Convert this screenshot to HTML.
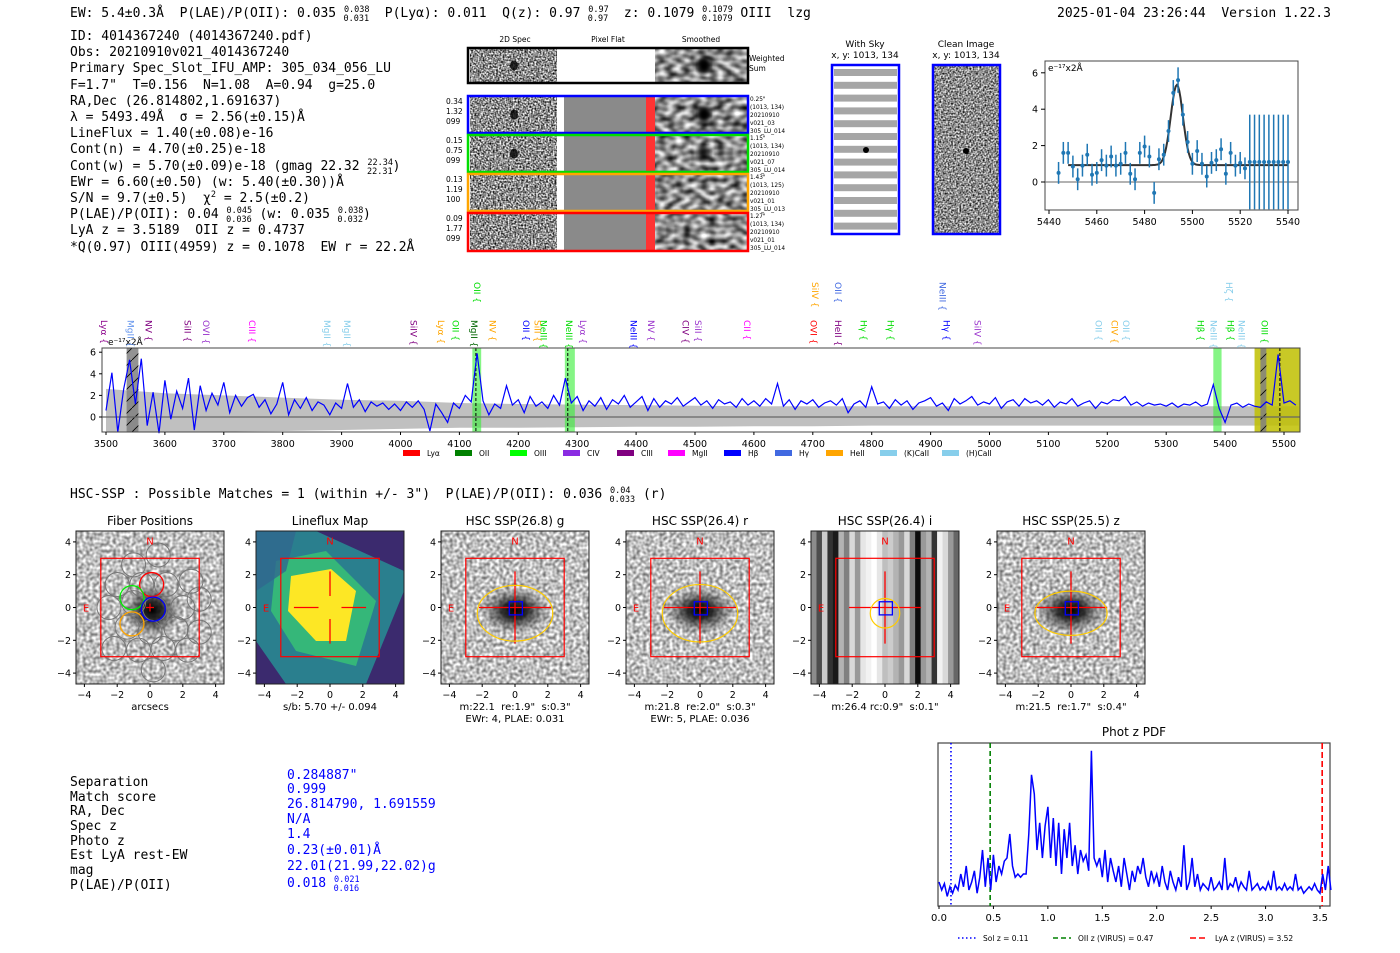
<!DOCTYPE html>
<html><head><meta charset="utf-8">
<style>
html,body{margin:0;padding:0;background:#fff;}
svg{display:block;}
.m{font-family:"DejaVu Sans Mono","Liberation Mono",monospace;font-size:13px;fill:#000;white-space:pre;}
.s{font-family:"DejaVu Sans","Liberation Sans",sans-serif;}
text{white-space:pre;}
</style></head>
<body>
<svg id="root" width="1400" height="953" viewBox="0 0 1400 953" xmlns="http://www.w3.org/2000/svg">
<defs>
<filter id="nSpec" x="0" y="0" width="100%" height="100%" color-interpolation-filters="sRGB">
<feTurbulence type="fractalNoise" baseFrequency="0.6" numOctaves="1" seed="3"/>
<feColorMatrix type="matrix" values="2 0 0 0 -0.45  2 0 0 0 -0.45  2 0 0 0 -0.45  0 0 0 0 1"/>
</filter>
<filter id="nSmooth" x="0" y="0" width="100%" height="100%" color-interpolation-filters="sRGB">
<feTurbulence type="fractalNoise" baseFrequency="0.12 0.18" numOctaves="1" seed="5"/>
<feColorMatrix type="matrix" values="1.6 0 0 0 -0.25  1.6 0 0 0 -0.25  1.6 0 0 0 -0.25  0 0 0 0 1"/>
</filter>
<filter id="nClean" x="0" y="0" width="100%" height="100%" color-interpolation-filters="sRGB">
<feTurbulence type="fractalNoise" baseFrequency="0.6" numOctaves="1" seed="9"/>
<feColorMatrix type="matrix" values="1.8 0 0 0 -0.35  1.8 0 0 0 -0.35  1.8 0 0 0 -0.35  0 0 0 0 1"/>
</filter>
<filter id="nCut" x="0" y="0" width="100%" height="100%" color-interpolation-filters="sRGB">
<feTurbulence type="fractalNoise" baseFrequency="0.3" numOctaves="1" seed="4"/>
<feColorMatrix type="matrix" values="1.1 0 0 0 0.2  1.1 0 0 0 0.2  1.1 0 0 0 0.2  0 0 0 0 1"/>
</filter>
<filter id="blur"><feGaussianBlur stdDeviation="2.5"/></filter>
<radialGradient id="gal"><stop offset="0" stop-color="#000" stop-opacity="1"/><stop offset="0.35" stop-color="#111" stop-opacity="0.85"/><stop offset="1" stop-color="#555" stop-opacity="0"/></radialGradient>
<pattern id="hatch" width="12" height="12" patternUnits="userSpaceOnUse"><path d="M0,12 L12,0" stroke="#000" stroke-width="0.8"/></pattern>
</defs>

<text class="m" x="70" y="17">EW: 5.4±0.3Å  P(LAE)/P(OII): 0.035 <tspan font-size="8.5" dy="-5">0.038</tspan><tspan font-size="8.5" dx="-26" dy="9">0.031</tspan><tspan dy="-4">  P(Lyα): 0.011  Q(z): 0.97 </tspan><tspan font-size="8.5" dy="-5">0.97</tspan><tspan font-size="8.5" dx="-21" dy="9">0.97</tspan><tspan dy="-4">  z: 0.1079 </tspan><tspan font-size="8.5" dy="-5">0.1079</tspan><tspan font-size="8.5" dx="-31" dy="9">0.1079</tspan><tspan dy="-4"> OIII  lzg</tspan></text>
<text class="m" x="1057" y="17">2025-01-04 23:26:44  Version 1.22.3</text>

<g>
<text class="m" x="70" y="40">ID: 4014367240 (4014367240.pdf)</text>
<text class="m" x="70" y="56">Obs: 20210910v021_4014367240</text>
<text class="m" x="70" y="72">Primary Spec_Slot_IFU_AMP: 305_034_056_LU</text>
<text class="m" x="70" y="89">F=1.7"  T=0.156  N=1.08  A=0.94  g=25.0</text>
<text class="m" x="70" y="105">RA,Dec (26.814802,1.691637)</text>
<text class="m" x="70" y="121">λ = 5493.49Å  σ = 2.56(±0.15)Å</text>
<text class="m" x="70" y="137">LineFlux = 1.40(±0.08)e-16</text>
<text class="m" x="70" y="153">Cont(n) = 4.70(±0.25)e-18</text>
<text class="m" x="70" y="170">Cont(w) = 5.70(±0.09)e-18 (gmag 22.32 <tspan font-size="8.5" dy="-5">22.34</tspan><tspan font-size="8.5" dx="-26" dy="9">22.31</tspan><tspan dy="-4">)</tspan></text>
<text class="m" x="70" y="186">EWr = 6.60(±0.50) (w: 5.40(±0.30))Å</text>
<text class="m" x="70" y="202">S/N = 9.7(±0.5)  χ<tspan font-size="8.5" dy="-5">2</tspan><tspan dy="5"> = 2.5(±0.2)</tspan></text>
<text class="m" x="70" y="218">P(LAE)/P(OII): 0.04 <tspan font-size="8.5" dy="-5">0.045</tspan><tspan font-size="8.5" dx="-26" dy="9">0.036</tspan><tspan dy="-4"> (w: 0.035 </tspan><tspan font-size="8.5" dy="-5">0.038</tspan><tspan font-size="8.5" dx="-26" dy="9">0.032</tspan><tspan dy="-4">)</tspan></text>
<text class="m" x="70" y="234">LyA z = 3.5189  OII z = 0.4737</text>
<text class="m" x="70" y="251">*Q(0.97) OIII(4959) z = 0.1078  EW r = 22.2Å</text>
</g>

<g id="twod" class="s">
<text x="515" y="42" font-size="7.5" text-anchor="middle">2D Spec</text>
<text x="608" y="42" font-size="7.5" text-anchor="middle">Pixel Flat</text>
<text x="701" y="42" font-size="7.5" text-anchor="middle">Smoothed</text>
<text x="749" y="61" font-size="7.5">Weighted</text>
<text x="749" y="71" font-size="7.5">Sum</text>
</g>

<g class="s">
<text x="865" y="47" font-size="9" text-anchor="middle">With Sky</text>
<text x="865" y="58" font-size="9" text-anchor="middle">x, y: 1013, 134</text>
</g>
<g class="s">
<text x="966" y="47" font-size="9" text-anchor="middle">Clean Image</text>
<text x="966" y="58" font-size="9" text-anchor="middle">x, y: 1013, 134</text>
</g>

<g id="fitplot"></g>
<g id="spec"></g>

<text class="m" x="70" y="498">HSC-SSP : Possible Matches = 1 (within +/- 3")  P(LAE)/P(OII): 0.036 <tspan font-size="8.5" dy="-5">0.04</tspan><tspan font-size="8.5" dx="-21" dy="9">0.033</tspan><tspan dy="-4"> (r)</tspan></text>

<g id="cutouts"></g>

<g>
<text class="m" x="70" y="786">Separation</text>
<text class="m" x="70" y="801">Match score</text>
<text class="m" x="70" y="815">RA, Dec</text>
<text class="m" x="70" y="830">Spec z</text>
<text class="m" x="70" y="845">Photo z</text>
<text class="m" x="70" y="859">Est LyA rest-EW</text>
<text class="m" x="70" y="874">mag</text>
<text class="m" x="70" y="889">P(LAE)/P(OII)</text>
<text class="m" x="287" y="779" style="fill:#0000ff">0.284887"</text>
<text class="m" x="287" y="793" style="fill:#0000ff">0.999</text>
<text class="m" x="287" y="808" style="fill:#0000ff">26.814790, 1.691559</text>
<text class="m" x="287" y="823" style="fill:#0000ff">N/A</text>
<text class="m" x="287" y="838" style="fill:#0000ff">1.4</text>
<text class="m" x="287" y="854" style="fill:#0000ff">0.23(±0.01)Å</text>
<text class="m" x="287" y="870" style="fill:#0000ff">22.01(21.99,22.02)g</text>
<text class="m" x="287" y="887" style="fill:#0000ff">0.018 <tspan font-size="8.5" dy="-5">0.021</tspan><tspan font-size="8.5" dx="-26" dy="9">0.016</tspan></text>
</g>

<g id="pdf"></g>
</svg>

<script>
// ---------- Data: full spectrum (flux, 1e-17 x 2A, sampled every 10 A from 3500) ----------
const specStart = 3500;
const specStep = 10;
const specFlux = [0.6,4.1,-1.4,2.6,5.3,1.2,5.4,-0.8,2.3,-1.5,
3.4,-0.2,2.4,0.8,3.6,-1.2,2.9,0.6,2.2,1.1,
3.2,0.4,2.0,1.0,1.8,2.1,0.9,1.6,0.3,1.2,
3.2,0.2,1.6,0.8,1.8,0.6,1.4,1.1,0.2,1.3,
0.8,3.1,0.9,1.6,0.5,1.4,1.0,1.3,0.7,1.2,
0.6,1.4,0.9,1.5,0.7,-1.3,1.2,0.4,-0.5,1.3,
0.8,2.0,1.4,5.9,1.5,0.2,1.2,0.8,2.9,1.1,
1.6,0.4,1.9,1.0,1.4,0.8,2.0,1.1,3.6,1.3,
1.9,0.6,1.5,1.0,1.8,0.7,1.6,1.2,2.0,0.9,
1.4,1.9,0.6,1.7,0.9,1.5,1.2,1.8,1.0,1.4,
1.8,1.1,1.5,0.8,1.6,1.2,1.4,0.9,1.7,1.1,
1.5,1.0,1.7,1.2,3.1,1.0,1.6,0.7,1.5,1.2,
1.6,0.9,1.3,1.5,1.1,1.7,0.4,1.2,1.5,0.9,
2.8,1.2,1.4,0.8,1.6,1.1,1.5,0.7,1.3,1.5,
1.8,1.0,1.3,0.6,1.7,1.2,1.5,1.9,1.1,1.4,
1.2,1.8,0.8,1.4,1.6,1.0,1.7,1.3,1.5,1.1,
1.6,0.9,1.4,1.2,1.7,1.0,1.3,1.5,0.8,1.4,
1.2,1.6,1.5,1.9,1.1,1.4,1.0,1.3,1.1,1.2,
1.0,1.3,0.9,1.2,1.1,1.4,1.0,1.2,3.0,0.8,
-0.5,1.1,1.3,0.9,1.2,1.0,0.9,1.4,1.1,5.8,
1.3,1.5,1.1];
const errWave = [3500,3600,3700,3800,3900,4000,4100,4200,4300,4400,4500,4600,4700,4800,4900,5000,5100,5200,5300,5400,5525];
const errUpper = [2.6,2.2,2.0,1.8,1.6,1.5,1.3,1.2,1.15,1.1,1.05,1.0,1.0,1.0,1.0,1.0,1.0,1.0,1.0,1.0,1.0];
const errLower = [-1.4,-1.4,-1.35,-1.3,-1.2,-1.1,-1.0,-1.0,-0.95,-0.9,-0.9,-0.85,-0.85,-0.8,-0.8,-0.8,-0.8,-0.8,-0.8,-0.8,-0.8];
const specXTicks = [3500,3600,3700,3800,3900,4000,4100,4200,4300,4400,4500,4600,4700,4800,4900,5000,5100,5200,5300,5400,5500];
const specYTicks = [0,2,4,6];
const greenBands = [[4122,4137],[4279,4296],[5380,5394]];
const lineLabels = [
["Lyα",3497,0,"#8b008b"],["MgII",3542,0,"#6495ed"],["NV",3572,0,"#800080"],["SiII",3638,0,"#800080"],["OVI",3670,0,"#9932cc"],["CIII",3748,0,"#ff00ff"],
["MgII",3875,0,"#87ceeb"],["MgII",3909,0,"#87ceeb"],["SiIV",4022,0,"#800080"],["Lyα",4069,0,"#ffa500"],["OII",4093,0,"#00dd00"],["MgII",4125,0,"#006400"],
["NV",4156,0,"#ffa500"],["OII",4213,0,"#0000ff"],["SiII",4233,0,"#ffa500"],["NeIII",4243,0,"#00dd00"],["NeIII",4286,0,"#00dd00"],["Lyα",4310,0,"#9932cc"],
["NeIII",4396,0,"#0000ff"],["NV",4425,0,"#9932cc"],["CIV",4484,0,"#800080"],["SiII",4505,0,"#9932cc"],["CII",4588,0,"#ff00ff"],["OVI",4701,0,"#ff0000"],
["HeII",4743,0,"#800080"],["Hγ",4786,0,"#00dd00"],["Hγ",4832,0,"#00dd00"],["Hγ",4927,0,"#0000ff"],["SiIV",4980,0,"#9932cc"],["OII",5185,0,"#87ceeb"],
["CIV",5212,0,"#ffa500"],["OII",5232,0,"#87ceeb"],["Hβ",5358,0,"#00dd00"],["NeIII",5380,0,"#87ceeb"],["Hβ",5409,0,"#00dd00"],["NeIII",5428,0,"#87ceeb"],["OIII",5467,0,"#00dd00"],
["OII",4130,1,"#00dd00"],["SiIV",4704,1,"#ffa500"],["OII",4743,1,"#4169e1"],["NeIII",4920,1,"#4169e1"],["Hζ",5407,1,"#87ceeb"]];
const legendNames = ["Lyα","OII","OIII","CIV","CIII","MgII","Hβ","Hγ","HeII","(K)CaII","(H)CaII"];
const legendColors = ["#ff0000","#008000","#00ff00","#8a2be2","#800080","#ff00ff","#0000ff","#4169e1","#ffa500","#87ceeb","#87ceeb"];

// ---------- Data: line fit ----------
const fitWave = [5444,5446,5448,5450,5452,5454,5456,5458,5460,5462,5464,5466,5468,5470,5472,5474,5476,5478,5480,5482,5484,5486,5488,5490,5492,5494,5496,5498,5500,5502,5504,5506,5508,5510,5512,5514,5516,5518,5520,5522,5524,5526,5528,5530,5532,5534,5536,5538,5540];
const fitFlux = [0.5,1.6,1.6,0.85,0.15,0.9,1.5,0.4,0.5,1.2,0.9,1.4,0.9,1.0,1.6,0.45,0.15,1.6,1.95,1.4,-0.6,1.25,1.5,2.8,4.9,5.6,3.7,2.2,1.0,1.7,1.0,0.3,1.05,1.2,1.8,0.45,1.6,0.9,1.05,0.75,1.1,1.1,1.1,1.1,1.1,1.1,1.1,1.1,1.1];
const fitErr = [0.6,0.6,0.6,0.6,0.6,0.6,0.6,0.6,0.6,0.6,0.6,0.6,0.6,0.6,0.6,0.6,0.6,0.6,0.6,0.6,0.6,0.6,0.6,0.6,0.7,0.7,0.6,0.6,0.6,0.6,0.6,0.6,0.6,0.6,0.6,0.6,0.6,0.6,0.6,0.6,2.6,2.6,2.6,2.6,2.6,2.6,2.6,2.6,2.6];
const fitModel = [5493.49, 2.56, 4.4, 0.93]; // center, sigma, amplitude, continuum
const fitXTicks = [5440,5460,5480,5500,5520,5540];
const fitYTicks = [0,2,4,6];

// ---------- Data: photometric z PDF (step 0.025 from z=0) ----------
const pdfStep = 0.025;
const pdfVals = [0.15,0.1,0.14,0.06,0.12,0.08,0.13,0.1,0.2,0.12,0.25,0.1,0.15,0.22,0.08,0.18,0.35,0.12,0.3,0.1,
0.32,0.15,0.25,0.2,0.28,0.3,0.45,0.25,0.18,0.2,0.18,0.2,0.2,0.45,0.82,0.7,0.35,0.52,0.3,0.5,
0.62,0.3,0.55,0.25,0.52,0.2,0.48,0.3,0.52,0.25,0.38,0.2,0.35,0.28,0.32,0.22,0.97,0.3,0.25,0.3,
0.18,0.35,0.15,0.3,0.22,0.15,0.25,0.12,0.3,0.2,0.1,0.22,0.15,0.25,0.2,0.3,0.18,0.12,0.22,0.15,
0.2,0.12,0.25,0.15,0.1,0.22,0.15,0.1,0.18,0.12,0.38,0.1,0.15,0.3,0.12,0.2,0.1,0.14,0.12,0.1,
0.18,0.1,0.12,0.15,0.1,0.3,0.1,0.14,0.12,0.18,0.1,0.15,0.12,0.1,0.22,0.1,0.12,0.14,0.1,0.12,
0.1,0.15,0.1,0.22,0.1,0.12,0.1,0.14,0.1,0.12,0.1,0.2,0.1,0.12,0.08,0.1,0.12,0.1,0.14,0.1,
0.08,0.2,0.1,0.25,0.1];
const pdfXTicks = [0.0,0.5,1.0,1.5,2.0,2.5,3.0,3.5];
const pdfMarkers = [0.11,0.47,3.52];
const pdfMarkerLabels = ["Sol z = 0.11","OII z (VIRUS) = 0.47","LyA z (VIRUS) = 3.52"];

const NS = "http://www.w3.org/2000/svg";
function el(parent, tag, attrs, text){
  const e = document.createElementNS(NS, tag);
  for (const k in attrs) e.setAttribute(k, attrs[k]);
  if (text !== undefined) e.textContent = text;
  parent.appendChild(e);
  return e;
}
const SANS = '"DejaVu Sans","Liberation Sans",sans-serif';

// ================= 2D spectra panel =================
(function(){
  const g = document.getElementById('twod');
  const rows = [[47,84,"#000"],[95,134,"#0000ff"],[134,173,"#00dd00"],[173,212,"#ffa500"],[212,252,"#ff0000"]];
  const side = [["0.34","1.32","099"],["0.15","0.75","099"],["0.13","1.19","100"],["0.09","1.77","099"]];
  const right = [["0.25\"","(1013, 134)","20210910","v021_03","305_LU_014"],["1.15\"","(1013, 134)","20210910","v021_07","305_LU_014"],["1.43\"","(1013, 125)","20210910","v021_01","305_LU_013"],["1.27\"","(1013, 134)","20210910","v021_01","305_LU_014"]];
  rows.forEach((r,i)=>{
    const y0=r[0], h=r[1]-r[0];
    const row = el(g,'g',{});
    
    
    el(row,'rect',{x:470,y:y0,width:87,height:h,fill:'#999',filter:'url(#nSpec)'});
    if(i===0){ el(row,'rect',{x:557,y:y0,width:98,height:h,fill:'#fff'}); }
    else {
      el(row,'rect',{x:557,y:y0,width:7,height:h,fill:'#fff'});
      el(row,'rect',{x:564,y:y0,width:82,height:h,fill:'#8a8a8a'});
      el(row,'rect',{x:646,y:y0,width:9,height:h,fill:'#ff3333'});
    }
    el(row,'rect',{x:655,y:y0,width:92,height:h,fill:'#999',filter:'url(#nSmooth)'});
    if(i<=2){ el(row,'ellipse',{cx:704,cy:y0+h/2,rx:7,ry:8,fill:'#000',filter:'url(#blur)',opacity: i===2?0.6:1}); el(row,'ellipse',{cx:514,cy:y0+h/2,rx:4,ry:5,fill:'#000',opacity:0.8}); }
    el(row,'rect',{x:468,y:y0+1,width:280,height:h-2,fill:'none',stroke:r[2],'stroke-width':2.5});
    if(i>0){
      side[i-1].forEach((t,k)=>el(row,'text',{x:446,y:y0+9+k*10,'font-size':7.5,'font-family':SANS},t));
      right[i-1].forEach((t,k)=>el(row,'text',{x:750,y:y0+6+k*8,'font-size':5.8,'font-family':SANS},t));
    }
  });
  const sky = el(g,'g',{});
  
  
  el(sky,'rect',{x:832,y:65,width:67,height:169,fill:'#fff'});
  for(let k=0;k<13;k++){ el(sky,'rect',{x:834,y:69+k*12.8,width:63,height:7,fill:'#888',opacity:0.75}); }
  el(sky,'circle',{cx:866,cy:150,r:3,fill:'#000'});
  el(sky,'rect',{x:832,y:65,width:67,height:169,fill:'none',stroke:'#0000ff','stroke-width':2.5});
  const cl = el(g,'g',{});
  
  
  el(cl,'rect',{x:933,y:65,width:67,height:169,fill:'#8a8a8a',filter:'url(#nClean)'});
  el(cl,'circle',{cx:966,cy:151,r:3,fill:'#000'});
  el(cl,'rect',{x:933,y:65,width:67,height:169,fill:'none',stroke:'#0000ff','stroke-width':2.5});
})();

// ================= Line fit chart =================
(function(){
  const g = document.getElementById('fitplot');
  const L=1045,R=1298,T=61,B=210;
  const sx = w => 1049 + (w-5440)*(1288-1049)/100;
  const sy = v => 182 - v*18.2;
  el(g,'rect',{x:L,y:T,width:R-L,height:B-T,fill:'#fff',stroke:'#444','stroke-width':1});
  el(g,'line',{x1:L,x2:R,y1:sy(0),y2:sy(0),stroke:'#666','stroke-width':1});
  fitXTicks.forEach(t=>{ el(g,'line',{x1:sx(t),x2:sx(t),y1:B,y2:B+4,stroke:'#000'}); el(g,'text',{x:sx(t),y:B+15,'font-size':9.5,'text-anchor':'middle','font-family':SANS},t); });
  fitYTicks.forEach(t=>{ el(g,'line',{x1:L-4,x2:L,y1:sy(t),y2:sy(t),stroke:'#000'}); el(g,'text',{x:L-7,y:sy(t)+3.5,'font-size':9.5,'text-anchor':'end','font-family':SANS},t); });
  el(g,'text',{x:L+3,y:T+10,'font-size':9,'font-family':SANS},'e⁻¹⁷x2Å');
  let d='';
  for(let w=5448; w<=5540; w+=0.5){
    const v = fitModel[3] + fitModel[2]*Math.exp(-0.5*Math.pow((w-fitModel[0])/fitModel[1],2));
    d += (d?'L':'M')+sx(w).toFixed(1)+','+sy(v).toFixed(1);
  }
  const curve = el(g,'path',{d:d,fill:'none',stroke:'#333','stroke-width':2});
  
  
  fitWave.forEach((w,i)=>{
    const top = Math.min(fitFlux[i]+fitErr[i], 6.4), bot = Math.max(fitFlux[i]-fitErr[i], -1.55);
    const eb = el(g,'line',{x1:sx(w),x2:sx(w),y1:sy(top),y2:sy(bot),stroke:'#1f77b4','stroke-width':1.5});
    
    
    const p = el(g,'circle',{cx:sx(w),cy:sy(fitFlux[i]),r:2,fill:'#1f77b4'});
    
    
  });
})();

// ================= Full spectrum =================
(function(){
  const g = document.getElementById('spec');
  const L=102,R=1300,T=348,B=432;
  const sx = w => 106 + (w-3500)*(1284-106)/2000;
  const sy = v => 417 - v*10.8;
  el(g,'rect',{x:L,y:T,width:R-L,height:B-T,fill:'#fff'});
  let d='M'+sx(errWave[0])+','+sy(errUpper[0]);
  errWave.forEach((w,i)=>{ d+='L'+sx(w).toFixed(1)+','+sy(errUpper[i]).toFixed(1); });
  for(let i=errWave.length-1;i>=0;i--){ d+='L'+sx(errWave[i]).toFixed(1)+','+sy(errLower[i]).toFixed(1); }
  const band = el(g,'path',{d:d+'Z',fill:'#c0c0c0'});
  
  
  greenBands.forEach(b=>{
    const r = el(g,'rect',{x:sx(b[0]),y:T,width:sx(b[1])-sx(b[0]),height:B-T,fill:'#33ee33',opacity:0.6});
    
    
  });
  const yr = el(g,'rect',{x:sx(5450),y:T,width:R-sx(5450),height:B-T,fill:'#bfbf00',opacity:0.85});
  
  
  [[3535,3555],[5460,5470]].forEach(m=>{
    el(g,'rect',{x:sx(m[0]),y:T,width:sx(m[1])-sx(m[0]),height:B-T,fill:'#808080',opacity:0.85});
    el(g,'rect',{x:sx(m[0]),y:T,width:sx(m[1])-sx(m[0]),height:B-T,fill:'url(#hatch)'});
  });
  el(g,'line',{x1:L,x2:R,y1:sy(0),y2:sy(0),stroke:'#666','stroke-width':1.2});
  [4128,4284,5493].forEach(w=>el(g,'line',{x1:sx(w),x2:sx(w),y1:T,y2:B,stroke:'#000','stroke-dasharray':'3,2','stroke-width':1}));
  let p='';
  specFlux.forEach((v,i)=>{ const w=specStart+i*specStep; p+=(i?'L':'M')+sx(w).toFixed(1)+','+Math.max(sy(v),T).toFixed(1); });
  const line = el(g,'path',{d:p,fill:'none',stroke:'#0000ff','stroke-width':1.2});
  
  
  el(g,'rect',{x:L,y:T,width:R-L,height:B-T,fill:'none',stroke:'#444'});
  specXTicks.forEach(t=>{ el(g,'line',{x1:sx(t),x2:sx(t),y1:B,y2:B+3,stroke:'#000'}); el(g,'text',{x:sx(t),y:B+15,'font-size':9.5,'text-anchor':'middle','font-family':SANS},t); });
  specYTicks.forEach(t=>{ el(g,'line',{x1:L-3,x2:L,y1:sy(t),y2:sy(t),stroke:'#000'}); el(g,'text',{x:L-6,y:sy(t)+3.5,'font-size':9.5,'text-anchor':'end','font-family':SANS},t); });
  el(g,'text',{x:108,y:345,'font-size':9,'font-family':SANS},'e⁻¹⁷x2Å');
  lineLabels.forEach(l=>{
    const x = sx(l[1]); const y0 = l[2] ? 282 : 320;
    const t = el(g,'text',{transform:'translate('+(x-3)+','+y0+') rotate(90)','font-size':9,fill:l[3],'font-family':SANS},l[0]+' {');
    
    
  });
  const legX = [403,455,510,563,617,668,724,775,826,880,942];
  legendNames.forEach((n,i)=>{
    const lg = el(g,'g',{});
    
    
    el(lg,'rect',{x:legX[i],y:450,width:17,height:6,fill:legendColors[i]});
    el(lg,'text',{x:legX[i]+24,y:456,'font-size':7.5,'font-family':SANS},n);
  });
})();

// ================= Cutouts =================
(function(){
  const g = document.getElementById('cutouts');
  const panels = [
    {x:76,title:"Fiber Positions",sub:["arcsecs"],type:'fiber'},
    {x:256,title:"Lineflux Map",sub:["s/b: 5.70 +/- 0.094"],type:'flux'},
    {x:441,title:"HSC SSP(26.8) g",sub:["m:22.1  re:1.9\"  s:0.3\"","EWr: 4, PLAE: 0.031"],type:'gal',ell:[2.3,1.7]},
    {x:626,title:"HSC SSP(26.4) r",sub:["m:21.8  re:2.0\"  s:0.3\"","EWr: 5, PLAE: 0.036"],type:'gal',ell:[2.3,1.75]},
    {x:811,title:"HSC SSP(26.4) i",sub:["m:26.4 rc:0.9\"  s:0.1\""],type:'stripe',ell:[0.9,0.9]},
    {x:997,title:"HSC SSP(25.5) z",sub:["m:21.5  re:1.7\"  s:0.4\""],type:'gal',ell:[2.2,1.35]}
  ];
  const W=148, T=531, H=153, s=16.4;
  const stripes = [0.55,0.3,0.8,0.2,0.1,0.7,0.5,0.85,0.6,0.9,0.95,1,0.9,0.75,0.8,0.7,0.6,0.85,0.5,0.05,0.6,0.7,0.2,0.95,0.85,0.6,0.4];
  panels.forEach(pn=>{
    const pg = el(g,'g',{});
    
    
    const L=pn.x, cx=L+W/2, cy=T+H/2;
    const X = a => cx + a*s, Y = a => cy - a*s;
    el(pg,'text',{x:cx,y:T-6,'font-size':12,'text-anchor':'middle','font-family':SANS},pn.title);
    if(pn.type==='flux'){
      el(pg,'rect',{x:L,y:T,width:W,height:H,fill:'#3b2a6e'});
      el(pg,'polygon',{points:`${L},${T} ${L+60},${T} ${L+148},${T+40} ${L+148},${T+60} ${L+110},${T+153} ${L+30},${T+153} ${L},${T+110}`,fill:'#2a7f8e'});
      el(pg,'polygon',{points:`${L+20},${T+30} ${L+70},${T+20} ${L+120},${T+70} ${L+100},${T+135} ${L+40},${T+120} ${L+15},${T+80}`,fill:'#35b779'});
      el(pg,'polygon',{points:`${L+35},${T+45} ${L+75},${T+38} ${L+100},${T+60} ${L+90},${T+110} ${L+60},${T+110} ${L+32},${T+80}`,fill:'#fde725'});
      el(pg,'polygon',{points:`${L},${T} ${L+40},${T} ${L+30},${T+40} ${L},${T+60}`,fill:'#31688e',opacity:0.8});
    } else if(pn.type==='stripe'){
      const sw = W/stripes.length;
      stripes.forEach((v,i)=>{ const c=Math.round(v*255); el(pg,'rect',{x:L+i*sw,y:T,width:sw+0.5,height:H,fill:`rgb(${c},${c},${c})`}); });
    } else {
      el(pg,'rect',{x:L,y:T,width:W,height:H,fill:'#aaa',filter:'url(#nCut)'});
      el(pg,'ellipse',{cx:cx+(pn.type==='fiber'?2:0),cy:cy+3,rx:pn.type==='fiber'?30:36,ry:pn.type==='fiber'?28:24,fill:'url(#gal)'});
    }
    if(pn.type==='fiber'){
      const fib = [[-1,2.6],[0.5,3.2],[-2,1.4],[-0.5,1.4],[1,1.4],[2.5,1.6],[-2.5,0],[-1,0.3],[0.3,-0.1],[2,0],[-1.4,-1.2],[0,-1.5],[1.6,-1.3],[3,-1.5],[-2.2,-2.5],[-0.7,-2.6],[0.8,-2.5],[2.3,-2.6],[0.2,-3.8],[3,0.5]];
      fib.forEach(f=>el(pg,'circle',{cx:X(f[0]),cy:Y(f[1]),r:12,fill:'none',stroke:'#777','stroke-width':1}));
      el(pg,'circle',{cx:X(0.1),cy:Y(1.4),r:12,fill:'none',stroke:'#ff0000','stroke-width':1.3});
      el(pg,'circle',{cx:X(-1.1),cy:Y(0.6),r:12,fill:'none',stroke:'#00ee00','stroke-width':1.3});
      el(pg,'circle',{cx:X(-1.1),cy:Y(-1.0),r:12,fill:'none',stroke:'#ffa500','stroke-width':1.3});
      el(pg,'circle',{cx:X(0.2),cy:Y(-0.1),r:12,fill:'none',stroke:'#0000ff','stroke-width':1.3});
      el(pg,'path',{d:`M${X(0)-4},${Y(0)} h8 M${X(0)},${Y(0)-4} v8`,stroke:'#ff0000','stroke-width':1.2});
    }
    el(pg,'rect',{x:X(-3),y:Y(3),width:6*s,height:6*s,fill:'none',stroke:'#ff0000','stroke-width':1.2});
    if(pn.type!=='fiber'){
      el(pg,'path',{d:`M${X(-2.2)},${cy} H${X(-0.7)} M${X(0.7)},${cy} H${X(2.2)} M${cx},${Y(2.2)} V${Y(0.7)} M${cx},${Y(-0.7)} V${Y(-2.2)}`,stroke:'#ff0000','stroke-width':1.3});
      if(pn.type!=='flux'){
        el(pg,'path',{d:`M${X(-0.7)},${cy} H${X(0.7)} M${cx},${Y(0.7)} V${Y(-0.7)}`,stroke:'#ff0000','stroke-width':1.3});
        el(pg,'ellipse',{cx:cx,cy:Y(-0.35),rx:pn.ell[0]*s,ry:pn.ell[1]*s,fill:'none',stroke:'#ffcc00','stroke-width':1.2});
        el(pg,'rect',{x:X(-0.35),y:Y(0.35),width:0.8*s,height:0.8*s,fill:'none',stroke:'#0000ff','stroke-width':1.3});
      }
    }
    el(pg,'text',{x:cx,y:Y(3.85),'font-size':10,fill:'#ff0000','text-anchor':'middle','font-family':SANS},'N');
    el(pg,'text',{x:X(-3.9),y:cy+4,'font-size':10,fill:'#ff0000','text-anchor':'middle','font-family':SANS},'E');
    el(pg,'rect',{x:L,y:T,width:W,height:H,fill:'none',stroke:'#222'});
    [-4,-2,0,2,4].forEach(t=>{
      el(pg,'line',{x1:X(t),x2:X(t),y1:T+H,y2:T+H+3,stroke:'#000'});
      el(pg,'text',{x:X(t),y:T+H+14,'font-size':9.5,'text-anchor':'middle','font-family':SANS},t<0?'−'+(-t):t);
      el(pg,'line',{x1:L-3,x2:L,y1:Y(t),y2:Y(t),stroke:'#000'});
      el(pg,'text',{x:L-5,y:Y(t)+3.5,'font-size':9.5,'text-anchor':'end','font-family':SANS},t<0?'−'+(-t):t);
    });
    pn.sub.forEach((t,k)=>el(pg,'text',{x:cx,y:T+H+26+k*12,'font-size':10,'text-anchor':'middle','font-family':SANS},t));
  });
})();

// ================= Phot z PDF =================
(function(){
  const g = document.getElementById('pdf');
  const L=938,R=1330,T=743,B=906;
  const sx = z => 939 + z*(1320-939)/3.5;
  const sy = v => 906 - v*160;
  el(g,'text',{x:1134,y:736,'font-size':12,'text-anchor':'middle','font-family':SANS},'Phot z PDF');
  el(g,'rect',{x:L,y:T,width:R-L,height:B-T,fill:'#fff',stroke:'#444','stroke-width':1.2});
  const styles = [['#0000ff','1.5,2.5'],['#008000','5,3'],['#ff0000','6,3']];
  pdfMarkers.forEach((z,i)=>{
    const ln = el(g,'line',{x1:sx(z),x2:sx(z),y1:T,y2:B,stroke:styles[i][0],'stroke-width':1.6,'stroke-dasharray':styles[i][1]});
    
    
  });
  let d='';
  pdfVals.forEach((v,i)=>{ d+=(i?'L':'M')+sx(i*pdfStep).toFixed(1)+','+sy(v).toFixed(1); });
  const pl = el(g,'path',{d:d,fill:'none',stroke:'#0000ff','stroke-width':1.5});
  
  
  pdfXTicks.forEach(t=>{ el(g,'line',{x1:sx(t),x2:sx(t),y1:B,y2:B+3,stroke:'#000'}); el(g,'text',{x:sx(t),y:B+15,'font-size':10,'text-anchor':'middle','font-family':SANS},t.toFixed(1)); });
  const lx = [958,1053,1190];
  pdfMarkerLabels.forEach((t,i)=>{
    const lg = el(g,'g',{});
    
    
    el(lg,'line',{x1:lx[i],x2:lx[i]+18,y1:938,y2:938,stroke:styles[i][0],'stroke-width':1.6,'stroke-dasharray':styles[i][1]});
    el(lg,'text',{x:lx[i]+25,y:941,'font-size':7.5,'font-family':SANS},t);
  });
})();
</script>
</body></html>
